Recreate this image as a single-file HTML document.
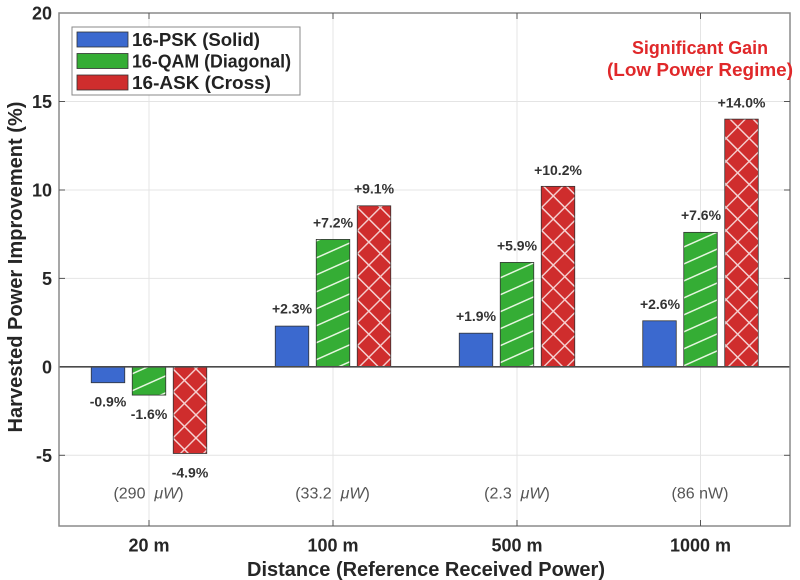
<!DOCTYPE html>
<html><head><meta charset="utf-8"><style>
html,body{margin:0;padding:0;background:#fff;}
svg{display:block;}
text{font-family:"Liberation Sans",Arial,sans-serif;}
</style></head><body>
<svg width="800" height="580" viewBox="0 0 800 580" xmlns="http://www.w3.org/2000/svg">
<defs>
<pattern id="diag" patternUnits="userSpaceOnUse" width="20" height="15.5" patternTransform="rotate(-24)">
<rect width="20" height="15.5" fill="#35ad35"/>
<line x1="0" y1="7.75" x2="20" y2="7.75" stroke="#e6f6df" stroke-width="1.6"/>
</pattern>
<pattern id="cross" patternUnits="userSpaceOnUse" width="16.3" height="16.3" patternTransform="rotate(45)">
<rect width="16.3" height="16.3" fill="#cf2d2d"/>
<line x1="0" y1="8.15" x2="16.3" y2="8.15" stroke="#f6d2d2" stroke-width="1.4"/>
<line x1="8.15" y1="0" x2="8.15" y2="16.3" stroke="#f6d2d2" stroke-width="1.4"/>
</pattern>
</defs>
<rect width="800" height="580" fill="#fff"/>
<!-- grid -->
<g stroke="#e4e4e4" stroke-width="1">
<line x1="59" y1="101.5" x2="790" y2="101.5"/>
<line x1="59" y1="190" x2="790" y2="190"/>
<line x1="59" y1="278.4" x2="790" y2="278.4"/>
<line x1="59" y1="455.3" x2="790" y2="455.3"/>
<line x1="149" y1="13" x2="149" y2="526"/>
<line x1="333" y1="13" x2="333" y2="526"/>
<line x1="517" y1="13" x2="517" y2="526"/>
<line x1="700.5" y1="13" x2="700.5" y2="526"/>
</g>
<!-- bars -->
<g stroke="#333" stroke-width="0.8">
<rect x="91.25" y="366.8" width="33.5" height="15.92" fill="#3b69cf"/>
<rect x="132.25" y="366.8" width="33.5" height="28.3" fill="url(#diag)"/>
<rect x="173.25" y="366.8" width="33.5" height="86.68" fill="url(#cross)"/>
<rect x="275.25" y="326.11" width="33.5" height="40.69" fill="#3b69cf"/>
<rect x="316.25" y="239.43" width="33.5" height="127.37" fill="url(#diag)"/>
<rect x="357.25" y="205.82" width="33.5" height="160.98" fill="url(#cross)"/>
<rect x="459.25" y="333.19" width="33.5" height="33.61" fill="#3b69cf"/>
<rect x="500.25" y="262.43" width="33.5" height="104.37" fill="url(#diag)"/>
<rect x="541.25" y="186.36" width="33.5" height="180.44" fill="url(#cross)"/>
<rect x="642.75" y="320.81" width="33.5" height="45.99" fill="#3b69cf"/>
<rect x="683.75" y="232.36" width="33.5" height="134.44" fill="url(#diag)"/>
<rect x="724.75" y="119.14" width="33.5" height="247.66" fill="url(#cross)"/>
</g>
<!-- zero line -->
<line x1="59" y1="366.8" x2="790" y2="366.8" stroke="#4a4a4a" stroke-width="1.6"/>
<!-- axes box -->
<rect x="59" y="13" width="731" height="513" fill="none" stroke="#8a8a8a" stroke-width="1.5"/>
<!-- ticks -->
<g stroke="#555" stroke-width="1">
<line x1="59" y1="101.5" x2="65" y2="101.5"/><line x1="59" y1="190" x2="65" y2="190"/><line x1="59" y1="278.4" x2="65" y2="278.4"/><line x1="59" y1="455.3" x2="65" y2="455.3"/>
<line x1="790" y1="101.5" x2="784" y2="101.5"/><line x1="790" y1="190" x2="784" y2="190"/><line x1="790" y1="278.4" x2="784" y2="278.4"/><line x1="790" y1="455.3" x2="784" y2="455.3"/>
<line x1="149" y1="526" x2="149" y2="520"/><line x1="333" y1="526" x2="333" y2="520"/><line x1="517" y1="526" x2="517" y2="520"/><line x1="700.5" y1="526" x2="700.5" y2="520"/>
<line x1="149" y1="13" x2="149" y2="19"/><line x1="333" y1="13" x2="333" y2="19"/><line x1="517" y1="13" x2="517" y2="19"/><line x1="700.5" y1="13" x2="700.5" y2="19"/>
</g>
<!-- y tick labels -->
<g font-size="18" font-weight="bold" fill="#262626" text-anchor="end">
<text x="52" y="19.5">20</text>
<text x="52" y="108">15</text>
<text x="52" y="196.5">10</text>
<text x="52" y="284.9">5</text>
<text x="52" y="373.3">0</text>
<text x="52" y="461.8">-5</text>
</g>
<!-- x tick labels -->
<g font-size="18" font-weight="bold" fill="#262626" text-anchor="middle">
<text x="149" y="551.5">20 m</text>
<text x="333" y="551.5">100 m</text>
<text x="517" y="551.5">500 m</text>
<text x="700.5" y="551.5">1000 m</text>
</g>
<!-- axis labels -->
<text x="426" y="576" font-size="20" font-weight="bold" fill="#262626" text-anchor="middle" textLength="358" lengthAdjust="spacingAndGlyphs">Distance (Reference Received Power)</text>
<text transform="translate(22,267) rotate(-90)" font-size="20" font-weight="bold" fill="#262626" text-anchor="middle" textLength="331" lengthAdjust="spacingAndGlyphs">Harvested Power Improvement (%)</text>
<!-- power labels -->
<g font-size="16" fill="#555" text-anchor="middle">
<text x="148.5" y="498.5">(290&#160; <tspan font-style="italic">μW</tspan>)</text>
<text x="332.5" y="498.5">(33.2&#160; <tspan font-style="italic">μW</tspan>)</text>
<text x="517" y="498.5">(2.3&#160; <tspan font-style="italic">μW</tspan>)</text>
<text x="700" y="498.5">(86 nW)</text>
</g>
<!-- value labels -->
<g font-size="14" font-weight="bold" fill="#333" text-anchor="middle">
<text x="108" y="406.7">-0.9%</text>
<text x="149" y="419">-1.6%</text>
<text x="190" y="477.5">-4.9%</text>
<text x="292" y="313.6">+2.3%</text>
<text x="333" y="227.5">+7.2%</text>
<text x="374" y="193.3">+9.1%</text>
<text x="476" y="321">+1.9%</text>
<text x="517" y="250.5">+5.9%</text>
<text x="558" y="175">+10.2%</text>
<text x="660" y="309">+2.6%</text>
<text x="701" y="220">+7.6%</text>
<text x="741.5" y="107.5">+14.0%</text>
</g>
<!-- annotation -->
<g font-size="18" font-weight="bold" fill="#e0282a" text-anchor="middle">
<text x="700" y="54" textLength="136" lengthAdjust="spacingAndGlyphs">Significant Gain</text>
<text x="700" y="76" textLength="186" lengthAdjust="spacingAndGlyphs">(Low Power Regime)</text>
</g>
<!-- legend -->
<rect x="72" y="27" width="228" height="68" fill="#fff" stroke="#888" stroke-width="1"/>
<rect x="77" y="32" width="51" height="15" fill="#3b69cf" stroke="#333" stroke-width="0.8"/>
<rect x="77" y="53.5" width="51" height="15" fill="#35ad35" stroke="#333" stroke-width="0.8"/>
<rect x="77" y="75" width="51" height="15" fill="#cf2d2d" stroke="#333" stroke-width="0.8"/>
<g font-size="18" font-weight="bold" fill="#222">
<text x="132" y="46" textLength="128" lengthAdjust="spacingAndGlyphs">16-PSK (Solid)</text>
<text x="132" y="67.5" textLength="159" lengthAdjust="spacingAndGlyphs">16-QAM (Diagonal)</text>
<text x="132" y="89" textLength="139" lengthAdjust="spacingAndGlyphs">16-ASK (Cross)</text>
</g>
</svg>
</body></html>
